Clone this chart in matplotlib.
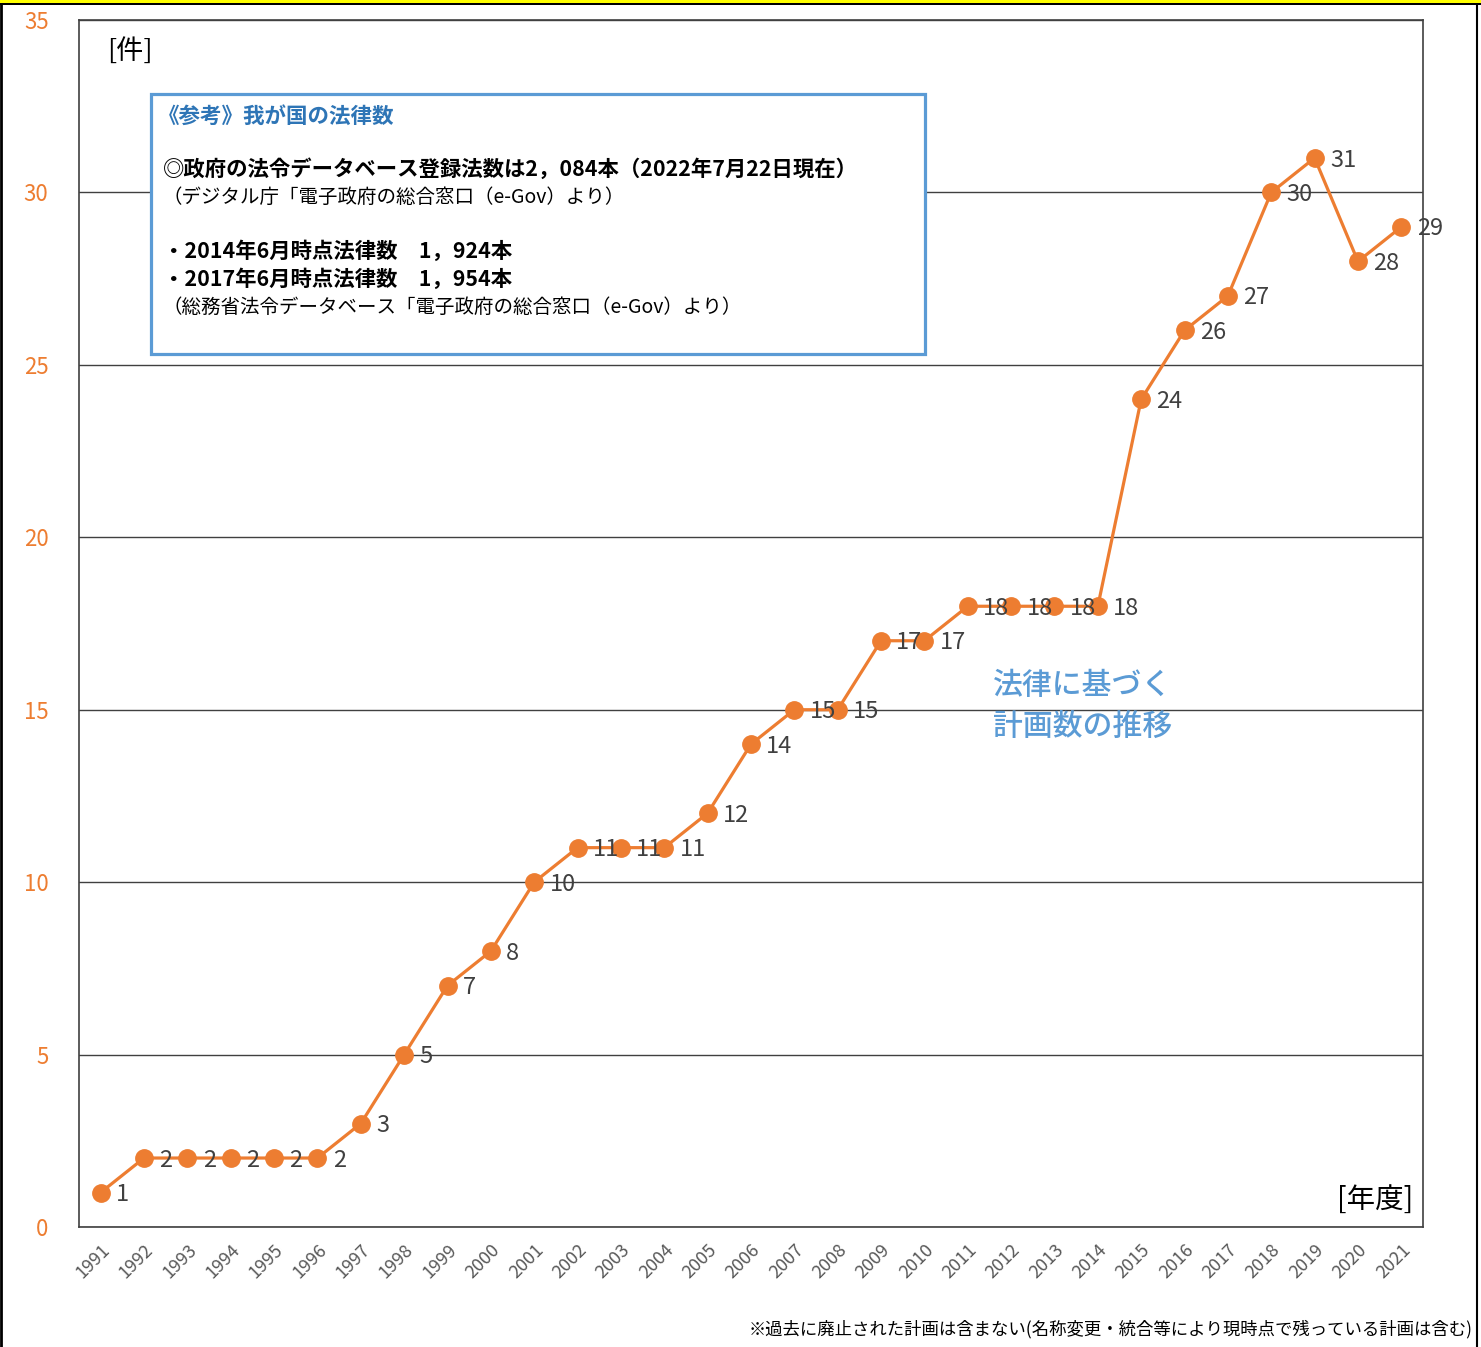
import matplotlib
matplotlib.use("Agg")
import matplotlib.pyplot as plt
from matplotlib.patches import Rectangle
from matplotlib.lines import Line2D

plt.rcParams['font.family'] = ['Noto Sans CJK JP', 'DejaVu Sans']

years = [str(y) for y in range(1991, 2022)]
counts = [1, 2, 2, 2, 2, 2, 3, 5, 7, 8, 10, 11, 11, 11, 12, 14, 15, 15, 17, 17,
          18, 18, 18, 18, 24, 26, 27, 30, 31, 28, 29]
yticks = [0, 5, 10, 15, 20, 25, 30, 35]

box_title = "《参考》我が国の法律数"
box_lines = [
    ("◎政府の法令データベース登録法数は2，084本（2022年7月22日現在）", "bold"),
    ("（デジタル庁「電子政府の総合窓口（e-Gov）より）", "normal"),
    ("・2014年6月時点法律数　1，924本", "bold"),
    ("・2017年6月時点法律数　1，954本", "bold"),
    ("（総務省法令データベース「電子政府の総合窓口（e-Gov）より）", "normal"),
]
series_name = "法律に基づく\n計画数の推移"
footnote = "※過去に廃止された計画は含まない(名称変更・統合等により現時点で残っている計画は含む)"

W, H = 1481, 1347
fig = plt.figure(figsize=(W / 100, H / 100), dpi=100)

def fx(x):
    return x / W

def fy(y):
    return 1 - y / H

ORANGE = "#ED7D31"
BLUE = "#5B9BD5"
GRAY = "#404040"

ax = fig.add_axes([fx(79), fy(1227), fx(1423) - fx(79), fy(20) - fy(1227)])
x = list(range(len(years)))
ax.plot(x, counts, color=ORANGE, lw=2.3, marker='o', markersize=12.5, zorder=5, clip_on=False)
for xi, v in zip(x, counts):
    ax.annotate(str(v), (xi, v), xytext=(11, -1.5), textcoords='offset points',
                ha='left', va='center', fontsize=17, color=GRAY, zorder=6,
                annotation_clip=False)

ax.set_xlim(-0.5, len(years) - 0.5)
ax.set_ylim(0, 35)
ax.set_yticks(yticks)
ax.set_yticklabels([str(t) for t in yticks], color=ORANGE, fontsize=16)
ax.set_xticks(x)
ax.set_xticklabels(years, rotation=45, ha='right', rotation_mode='anchor',
                   fontsize=13, color="#595959")
ax.tick_params(axis='both', length=0)
ax.tick_params(axis='y', pad=22)
ax.tick_params(axis='x', pad=10)
ax.yaxis.grid(True, color=GRAY, lw=1)
ax.set_axisbelow(True)
for s in ax.spines.values():
    s.set_color("#404040")
    s.set_linewidth(1.2)

# text box
box = Rectangle((fx(151), fy(354)), fx(925) - fx(151), fy(94) - fy(354),
                transform=fig.transFigure, facecolor='white', edgecolor=BLUE,
                lw=2.3, zorder=10)
fig.add_artist(box)
fig.text(fx(158), fy(116), box_title, color="#2E75B6", fontsize=15.5, weight='bold',
         va='center', ha='left', zorder=11)
ys = [169, 197, 251, 279, 307]
for (t, w), yy in zip(box_lines, ys):
    fig.text(fx(163), fy(yy), t, color='black', fontsize=15.4 if w == 'bold' else 14,
             weight=w, va='center', ha='left', zorder=11)

fig.text(fx(107), fy(51), "[件]", fontsize=19.5, color='black', va='center', ha='left')
fig.text(fx(1413), fy(1200), "[年度]", fontsize=20.5, color='black', va='center', ha='right')
fig.text(fx(993), fy(706), series_name, fontsize=21.5, color=BLUE, va='center',
         ha='left', linespacing=1.45, weight='medium')
fig.text(fx(1473), fy(1329), footnote, fontsize=12.5, color='black', va='center', ha='right')

# frame borders
fig.add_artist(Rectangle((0, fy(5)), 1, fy(0) - fy(5), transform=fig.transFigure,
                         facecolor='black', edgecolor='none', zorder=20))
fig.add_artist(Rectangle((0, fy(2.5)), 1, fy(0) - fy(2.5), transform=fig.transFigure,
                         facecolor='#FFFF00', edgecolor='none', zorder=21))
fig.add_artist(Line2D([fx(1), fx(1)], [0, 1], transform=fig.transFigure,
                      color='black', lw=2, zorder=20))
fig.add_artist(Line2D([fx(1476.5), fx(1476.5)], [0, fy(5)], transform=fig.transFigure,
                      color='black', lw=1.5, zorder=20))

fig.savefig("out.png", dpi=100)
